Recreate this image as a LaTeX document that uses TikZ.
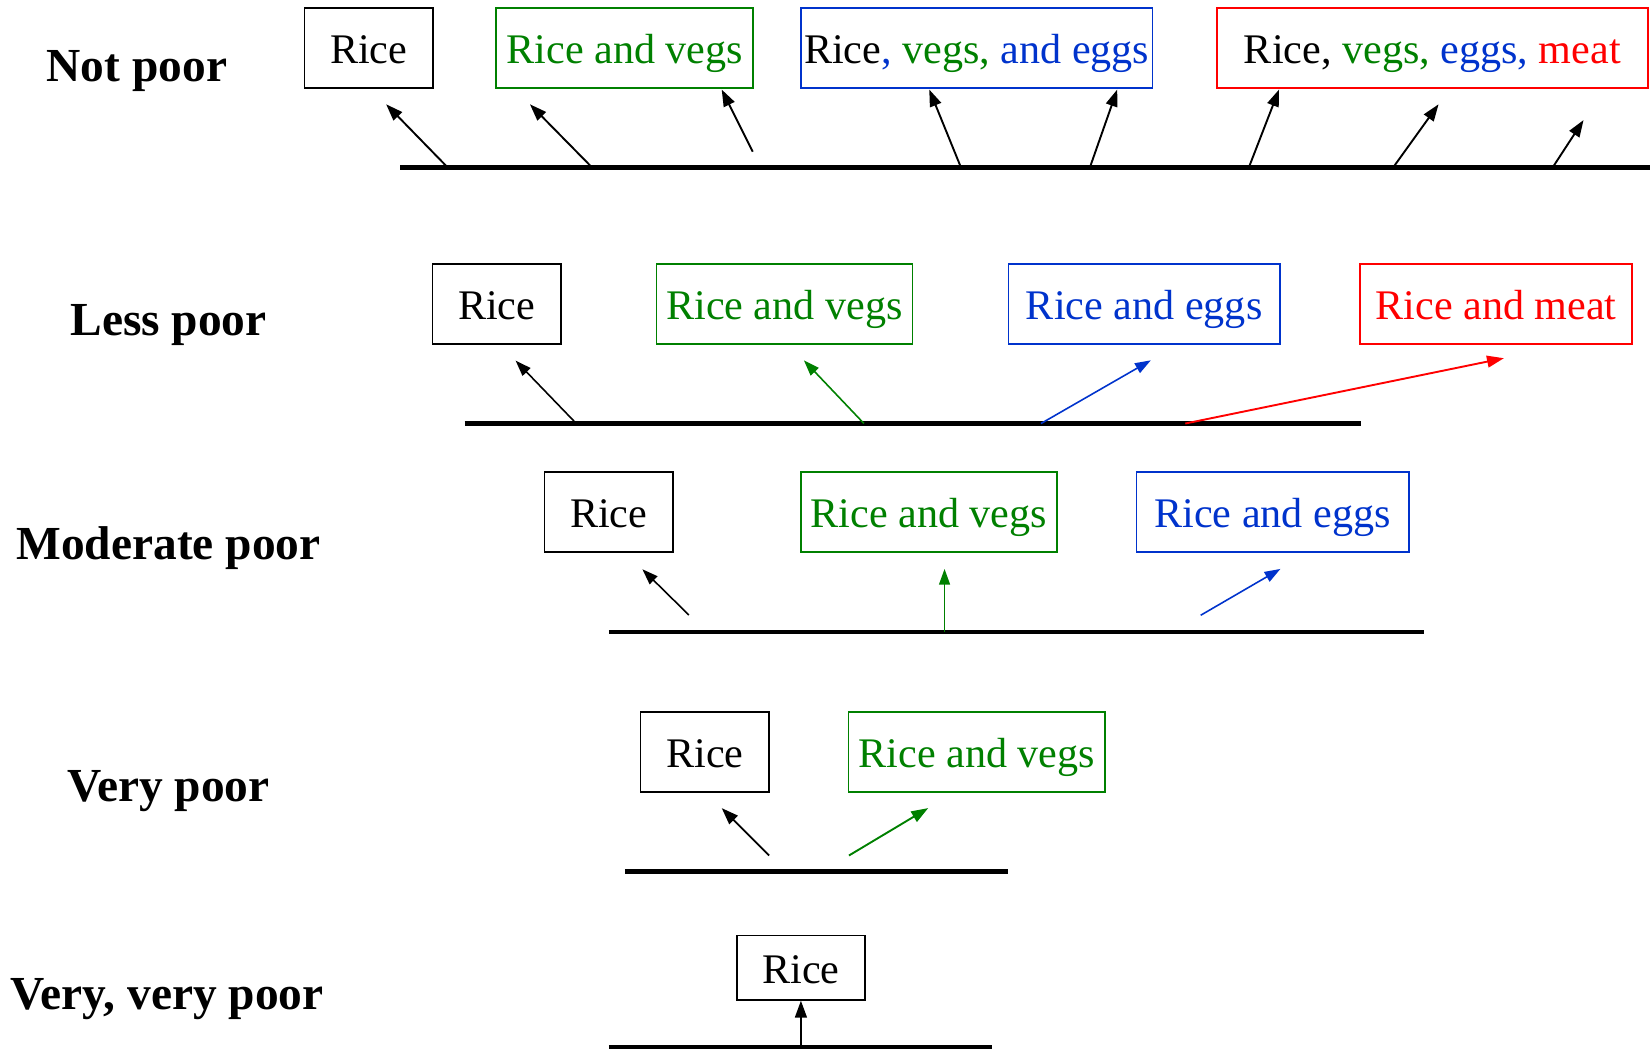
\documentclass[tikz,border=0pt]{standalone}
\usepackage{fontspec}
\setmainfont{Liberation Serif}
\usetikzlibrary{arrows.meta}
\definecolor{cgreen}{RGB}{0,128,0}
\definecolor{cblue}{RGB}{0,51,204}
\definecolor{cred}{RGB}{255,0,0}
\begin{document}
\begin{tikzpicture}[x=0.5pt,y=-0.5pt,
  box/.style={draw, line width=0.8pt, inner sep=0pt, text height=15pt, text depth=0pt,
    minimum height=38pt, font=\fontsize{20}{24}\selectfont},
  lab/.style={anchor=base, inner sep=0pt, font=\fontsize{22.5}{27}\selectfont\bfseries},
  bar/.style={line width=2.1pt},
  arr/.style={line width=0.9pt, -{Triangle[length=8pt,width=5.6pt]}},
  thinarr/.style={line width=0.75pt, -{Triangle[length=7.5pt,width=5.2pt]}}
]
\useasboundingbox (0,0) rectangle (1568,998.5);

% labels
\node[lab] (l1) at (130,77.5) {Not poor};
\node[lab] (l2) at (160,318.9) {Less poor};
\node[lab] (l3) at (160,531.5) {Moderate poor};
\node[lab] (l4) at (160,760.9) {Very poor};
\node[lab] (l5) at (158.7,958.6) {Very, very poor};

% row 1
\node[box, minimum width=61pt] (r1a) at (350,45.6) {Rice};
\node[box, draw=cgreen, text=cgreen, minimum width=122pt] (r1b) at (593,45.6) {Rice and vegs};
\node[box, draw=cblue, minimum width=167pt] (r1c) at (927,45.6) {Rice{\color{cblue},} {\color{cgreen}vegs,} {\color{cblue}and eggs}};
\node[box, draw=cred, minimum width=204.5pt] (r1d) at (1359.5,45.6) {Rice, {\color{cgreen}vegs,} {\color{cblue}eggs,} {\color{cred}meat}};
\coordinate (b1s) at (380,159); \coordinate (b1e) at (1566,159);
\draw[bar] (b1s) -- (b1e);
\coordinate (p11) at (424,158);   \coordinate (t11) at (366.5,99);
\coordinate (p12) at (561,158);   \coordinate (t12) at (503,99);
\coordinate (p13) at (714.4,144); \coordinate (t13) at (685,85);
\coordinate (p14) at (911.7,158); \coordinate (t14) at (882,85);
\coordinate (p15) at (1034.8,158);\coordinate (t15) at (1060.4,85);
\coordinate (p16) at (1185.7,158);\coordinate (t16) at (1214,85);
\coordinate (p17) at (1323,158);  \coordinate (t17) at (1365.4,99);
\coordinate (p18) at (1474.3,158);\coordinate (t18) at (1503,114);
\foreach \i in {1,...,8}{\draw[arr] (p1\i) -- (t1\i);}

% row 2
\node[box, minimum width=61pt] (r2a) at (471.5,288.4) {Rice};
\node[box, draw=cgreen, text=cgreen, minimum width=121.5pt] (r2b) at (744.5,288.4) {Rice and vegs};
\node[box, draw=cblue, text=cblue, minimum width=128.75pt] (r2c) at (1086,288.4) {Rice and eggs};
\node[box, draw=cred, text=cred, minimum width=129.25pt] (r2d) at (1420,288.4) {Rice and meat};
\coordinate (b2s) at (441,402); \coordinate (b2e) at (1292,402);
\draw[bar] (b2s) -- (b2e);
\coordinate (p21) at (547,402);  \coordinate (t21) at (489.4,342.3);
\coordinate (p22) at (820,402);  \coordinate (t22) at (763,342);
\coordinate (p23) at (988,402);  \coordinate (t23) at (1092.3,342);
\coordinate (p24) at (1125,402); \coordinate (t24) at (1427.4,340);
\draw[thinarr] (p21) -- (t21);
\draw[thinarr, cgreen] (p22) -- (t22);
\draw[thinarr, cblue] (p23) -- (t23);
\draw[arr, cred] (p24) -- (t24);

% row 3
\node[box, minimum width=61pt] (r3a) at (577.8,485.8) {Rice};
\node[box, draw=cgreen, text=cgreen, minimum width=121.5pt] (r3b) at (881.5,485.8) {Rice and vegs};
\node[box, draw=cblue, text=cblue, minimum width=129.25pt] (r3c) at (1207.8,485.8) {Rice and eggs};
\coordinate (b3s) at (578,600); \coordinate (b3e) at (1352,600);
\draw[bar] (b3s) -- (b3e);
\coordinate (p31) at (653.8,583.7); \coordinate (t31) at (609.7,540.3);
\coordinate (p32) at (896.5,600);   \coordinate (t32) at (896.5,540);
\coordinate (p33) at (1139.6,584);  \coordinate (t33) at (1215.3,540);
\draw[thinarr] (p31) -- (t31);
\draw[thinarr, cgreen] (p32) -- (t32);
\draw[thinarr, cblue] (p33) -- (t33);

% row 4
\node[box, minimum width=61pt] (r4a) at (669,713.7) {Rice};
\node[box, draw=cgreen, text=cgreen, minimum width=121.75pt] (r4b) at (927.2,713.7) {Rice and vegs};
\coordinate (b4s) at (593,827); \coordinate (b4e) at (957,827);
\draw[bar] (b4s) -- (b4e);
\coordinate (p41) at (730,812);   \coordinate (t41) at (685,767);
\coordinate (p42) at (805.8,812); \coordinate (t42) at (881,767);
\draw[arr] (p41) -- (t41);
\draw[arr, cgreen] (p42) -- (t42);

% row 5
\node[box, minimum width=61pt, minimum height=30.5pt] (r5a) at (760.2,918.5) {Rice};
\coordinate (b5s) at (578,994); \coordinate (b5e) at (942,994);
\draw[bar] (b5s) -- (b5e);
\coordinate (p51) at (760.2,994);
\draw[arr] (p51) -- (r5a.south);
\end{tikzpicture}
\end{document}
